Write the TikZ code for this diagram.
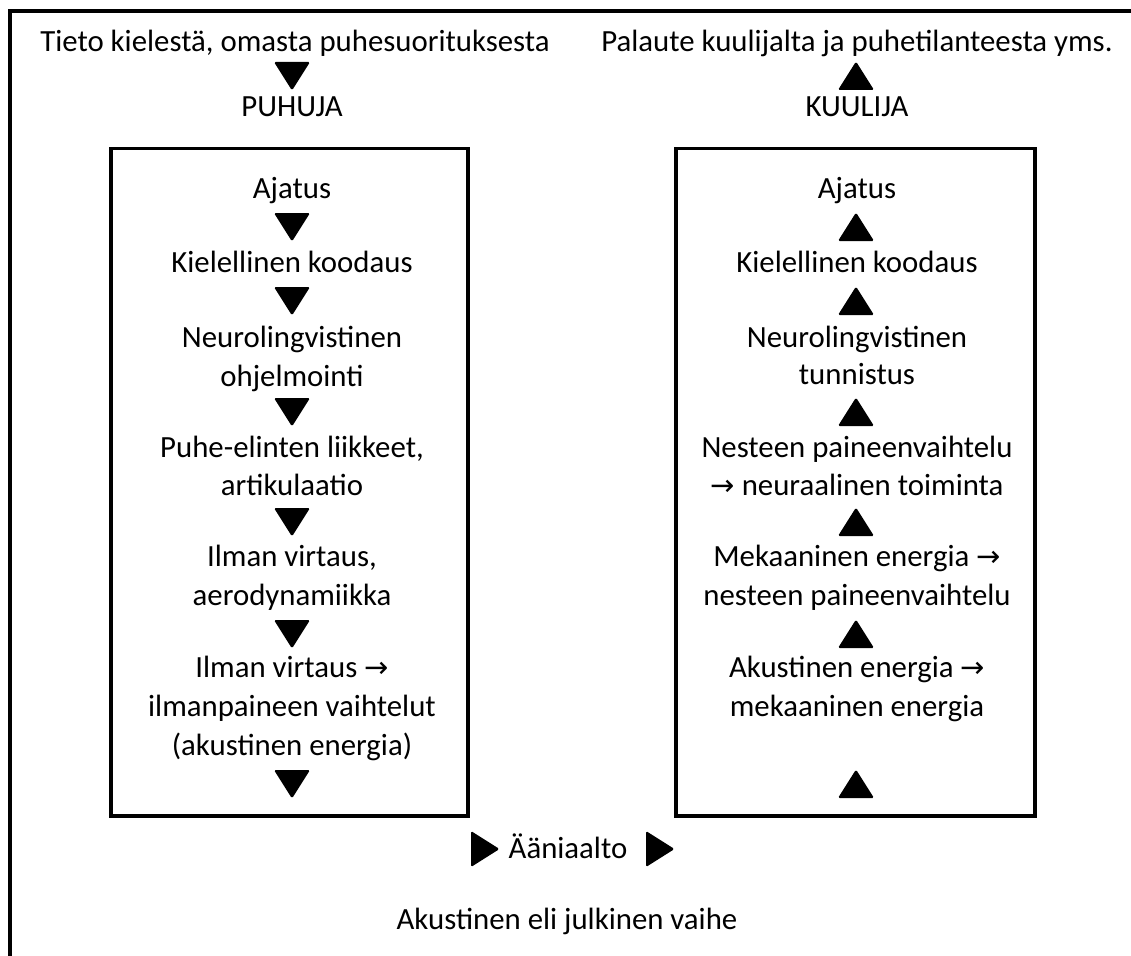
\documentclass[tikz,border=0pt]{standalone}
\usepackage{fontspec}
\setmainfont{Carlito}
\newfontfamily\arrfont{DejaVu Sans}
\newcommand{\arr}{{\arrfont\fontsize{29}{29}\selectfont →}}
\begin{document}
\begin{tikzpicture}[x=1pt,y=-1pt,
  txt/.style={font=\fontsize{30.8}{39}\selectfont, inner sep=0pt, anchor=base, align=center},
  frame/.style={line width=3.5pt, line cap=rect},
  box/.style={draw, line width=3.5pt},
  dtri/.pic={\fill[rounded corners=1.5pt] (-18pt,14pt) -- (18pt,14pt) -- (0pt,-14.5pt) -- cycle;},
  utri/.pic={\fill[rounded corners=1.5pt] (-18pt,-14pt) -- (18pt,-14pt) -- (0pt,14.5pt) -- cycle;},
  rtri/.pic={\fill[rounded corners=1.5pt] (-14pt,18pt) -- (-14pt,-18pt) -- (14.5pt,0pt) -- cycle;}
]
\useasboundingbox (0,0) rectangle (1131,955);
% outer frame (open on right and bottom)
\coordinate (fbl) at (10,960);
\coordinate (ftl) at (10,11);
\coordinate (ftr) at (1140,11);
\draw[frame] (fbl) -- (ftl) -- (ftr);

% top texts
\node[txt] (tieto) at (295,52) {Tieto kielestä, omasta puhesuorituksesta};
\node[txt] (palaute) at (857,52) {Palaute kuulijalta ja puhetilanteesta yms.};
\pic at (292,76) {dtri};
\pic at (856,76) {utri};
\node[txt] (puhuja) at (292,117) {PUHUJA};
\node[txt] (kuulija) at (857,117) {KUULIJA};

% boxes
\coordinate (lbtl) at (111,148.5);
\coordinate (lbbr) at (468,816);
\coordinate (rbtl) at (676,148.5);
\coordinate (rbbr) at (1035,816);
\draw[box] (lbtl) rectangle (lbbr);
\draw[box] (rbtl) rectangle (rbbr);

% left column
\node[txt] (l1) at (292,198) {Ajatus};
\pic at (292,227) {dtri};
\node[txt] (l2) at (292,272) {Kielellinen koodaus};
\pic at (292,301) {dtri};
\node[txt] (l3a) at (292,347) {Neurolingvistinen};
\node[txt] (l3b) at (292,386) {ohjelmointi};
\pic at (292,412) {dtri};
\node[txt] (l4a) at (292,457) {Puhe-elinten liikkeet,};
\node[txt] (l4b) at (292,495) {artikulaatio};
\pic at (292,522) {dtri};
\node[txt] (l5a) at (292,566) {Ilman virtaus,};
\node[txt] (l5b) at (292,605) {aerodynamiikka};
\pic at (292,634) {dtri};
\node[txt] (l6a) at (292,677) {Ilman virtaus \arr};
\node[txt] (l6b) at (292,716) {ilmanpaineen vaihtelut};
\node[txt] (l6c) at (292,755) {(akustinen energia)};
\pic at (292,784) {dtri};

% right column
\node[txt] (r1) at (857,198) {Ajatus};
\pic at (856,227) {utri};
\node[txt] (r2) at (857,272) {Kielellinen koodaus};
\pic at (856,301) {utri};
\node[txt] (r3a) at (857,347) {Neurolingvistinen};
\node[txt] (r3b) at (857,384) {tunnistus};
\pic at (856,412) {utri};
\node[txt] (r4a) at (857,457) {Nesteen paineenvaihtelu};
\node[txt] (r4b) at (857,495) {\arr\ neuraalinen toiminta};
\pic at (856,522) {utri};
\node[txt] (r5a) at (857,566) {Mekaaninen energia \arr};
\node[txt] (r5b) at (857,605) {nesteen paineenvaihtelu};
\pic at (856,634) {utri};
\node[txt] (r6a) at (857,677) {Akustinen energia \arr};
\node[txt] (r6b) at (857,716) {mekaaninen energia};
\pic at (856,784) {utri};

% bottom
\pic at (485,849) {rtri};
\node[txt] (aani) at (568,858) {Ääniaalto};
\pic at (660,849) {rtri};
\node[txt] (vaihe) at (567,929) {Akustinen eli julkinen vaihe};
\end{tikzpicture}
\end{document}
